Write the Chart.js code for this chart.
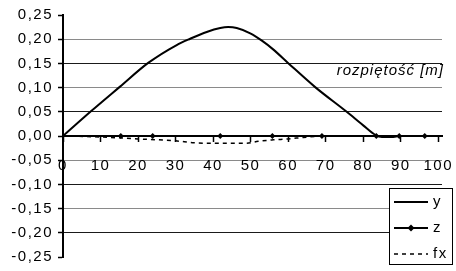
<!DOCTYPE html>
<html>
<head>
<meta charset="utf-8">
<script src="https://cdn.jsdelivr.net/npm/chart.js@4.4.0/dist/chart.umd.min.js"></script>
<style>
  body { margin: 0; background: #fff; }
  canvas { display: block; }
</style>
</head>
<body>
<canvas id="chart" width="456" height="271"></canvas>
<script>
// data
const yX = [0, 7.6, 15.2, 22.7, 30.3, 33.9, 38.3, 41.9, 44, 46.3, 49.9, 53, 56, 60.1, 67.2, 75.6, 80, 83.3, 85, 88, 89.6];
const yValues = [0, 0.052, 0.102, 0.151, 0.188, 0.201, 0.215, 0.223, 0.225, 0.223, 0.212, 0.197, 0.179, 0.15, 0.101, 0.05, 0.022, 0.002, -0.002, -0.002, 0];
const zX = [15.4, 23.9, 41.9, 55.8, 69, 83.5, 89.6, 96.4];
const zValues = [0, 0, 0, 0, 0, 0, 0, 0];
const fxX = [0, 10, 20, 30, 35, 40, 45, 49, 52, 56, 60, 64, 69];
const fxValues = [0, -0.002, -0.006, -0.010, -0.014, -0.015, -0.015, -0.015, -0.011, -0.008, -0.006, -0.003, 0];
const seriesNames = ['y', 'z', 'fx'];
const xTicks = [0, 10, 20, 30, 40, 50, 60, 70, 80, 90, 100];
const yTicks = [-0.25, -0.2, -0.15, -0.1, -0.05, 0, 0.05, 0.1, 0.15, 0.2, 0.25];
const axisTitle = 'rozpiętość [m]';

const FONT = "'Liberation Sans', Arial, sans-serif";

function toPoints(xs, ys) {
    return xs.map((x, i) => ({ x: x, y: ys[i] }));
}

function gridColor(v) {
    const k = Math.round(v * 100);
    if (k === 25 || k === -25 || k === 0) return 'rgba(0,0,0,0)';
    return [20, 10, -5, -15].includes(k) ? '#8a8a8a' : '#1a1a1a';
}

// the original text is a bit stretched
const spacing = {
    id: 'spacing',
    beforeDraw(chart) { chart.ctx.letterSpacing = '1.5px'; }
};

const extras = {
    id: 'extras',
    afterDraw(chart) {
        const ctx = chart.ctx;
        const area = chart.chartArea;
        ctx.save();
        // axis title
        ctx.letterSpacing = '1px';
        ctx.font = 'italic 15px ' + FONT;
        ctx.fillStyle = '#000';
        ctx.textAlign = 'right';
        ctx.textBaseline = 'middle';
        ctx.fillText(axisTitle, area.right + 2, 71);

        // legend box
        const bx = 389.5, by = 188.5, bw = 63, bh = 76;
        ctx.fillStyle = '#fff';
        ctx.fillRect(bx, by, bw, bh);
        ctx.strokeStyle = '#000';
        ctx.lineWidth = 1;
        ctx.strokeRect(bx, by, bw, bh);

        ctx.letterSpacing = '1.5px';
        ctx.font = '15px ' + FONT;
        ctx.textAlign = 'left';
        chart.data.datasets.forEach((ds, i) => {
            const ly = 202 + i * 26;
            ctx.strokeStyle = ds.borderColor;
            ctx.lineWidth = ds.borderWidth;
            ctx.setLineDash(ds.borderDash || []);
            ctx.beginPath();
            ctx.moveTo(394, ly);
            ctx.lineTo(428, ly);
            ctx.stroke();
            ctx.setLineDash([]);
            if (ds.pointRadius > 0) {
                ctx.fillStyle = '#000';
                ctx.beginPath();
                ctx.moveTo(411, ly - 3.5);
                ctx.lineTo(414.5, ly);
                ctx.lineTo(411, ly + 3.5);
                ctx.lineTo(407.5, ly);
                ctx.closePath();
                ctx.fill();
            }
            ctx.fillStyle = '#000';
            ctx.fillText(ds.label, 433, ly);
        });
        ctx.restore();
    }
};

new Chart(document.getElementById('chart').getContext('2d'), {
    type: 'scatter',
    data: {
        datasets: [{
            label: seriesNames[0],
            data: toPoints(yX, yValues),
            showLine: true,
            borderColor: '#000',
            borderWidth: 2,
            pointRadius: 0,
            cubicInterpolationMode: 'monotone'
        }, {
            label: seriesNames[1],
            data: toPoints(zX, zValues),
            showLine: true,
            borderColor: '#000',
            backgroundColor: '#000',
            borderWidth: 2,
            pointStyle: 'rectRot',
            pointRadius: 3,
            pointBorderWidth: 0
        }, {
            label: seriesNames[2],
            data: toPoints(fxX, fxValues),
            showLine: true,
            borderColor: '#000',
            borderWidth: 1.5,
            borderDash: [4, 4],
            pointRadius: 0,
            cubicInterpolationMode: 'monotone'
        }]
    },
    options: {
        responsive: false,
        animation: false,
        devicePixelRatio: 1,
        layout: { padding: { top: 15, right: 14, bottom: 11, left: 0 } },
        plugins: {
            legend: { display: false },
            tooltip: { enabled: false }
        },
        scales: {
            x: {
                type: 'linear',
                position: { y: 0 },
                min: 0,
                max: 101,
                afterBuildTicks: s => { s.ticks = xTicks.map(v => ({ value: v })); },
                // labels may overhang the plot, as in the original
                afterFit: s => { s.paddingLeft = 0; s.paddingRight = 0; },
                border: { color: '#000', width: 2 },
                grid: { drawOnChartArea: false, tickColor: '#000', tickLength: 5, tickWidth: 1.5 },
                ticks: {
                    color: '#000',
                    font: { family: FONT, size: 15 },
                    padding: 16,
                    maxRotation: 0,
                    autoSkip: false
                }
            },
            y: {
                min: -0.25,
                max: 0.25,
                afterBuildTicks: s => { s.ticks = yTicks.map(v => ({ value: v })); },
                afterFit: s => { s.width = 63; },
                border: { color: '#000', width: 2 },
                grid: {
                    color: c => gridColor(c.tick.value),
                    tickColor: '#000',
                    tickLength: 5,
                    tickWidth: 1.5,
                    lineWidth: 1
                },
                ticks: {
                    color: '#000',
                    font: { family: FONT, size: 15 },
                    padding: 5,
                    callback: v => v.toFixed(2).replace('.', ',')
                }
            }
        }
    },
    plugins: [spacing, extras]
});
</script>
</body>
</html>
